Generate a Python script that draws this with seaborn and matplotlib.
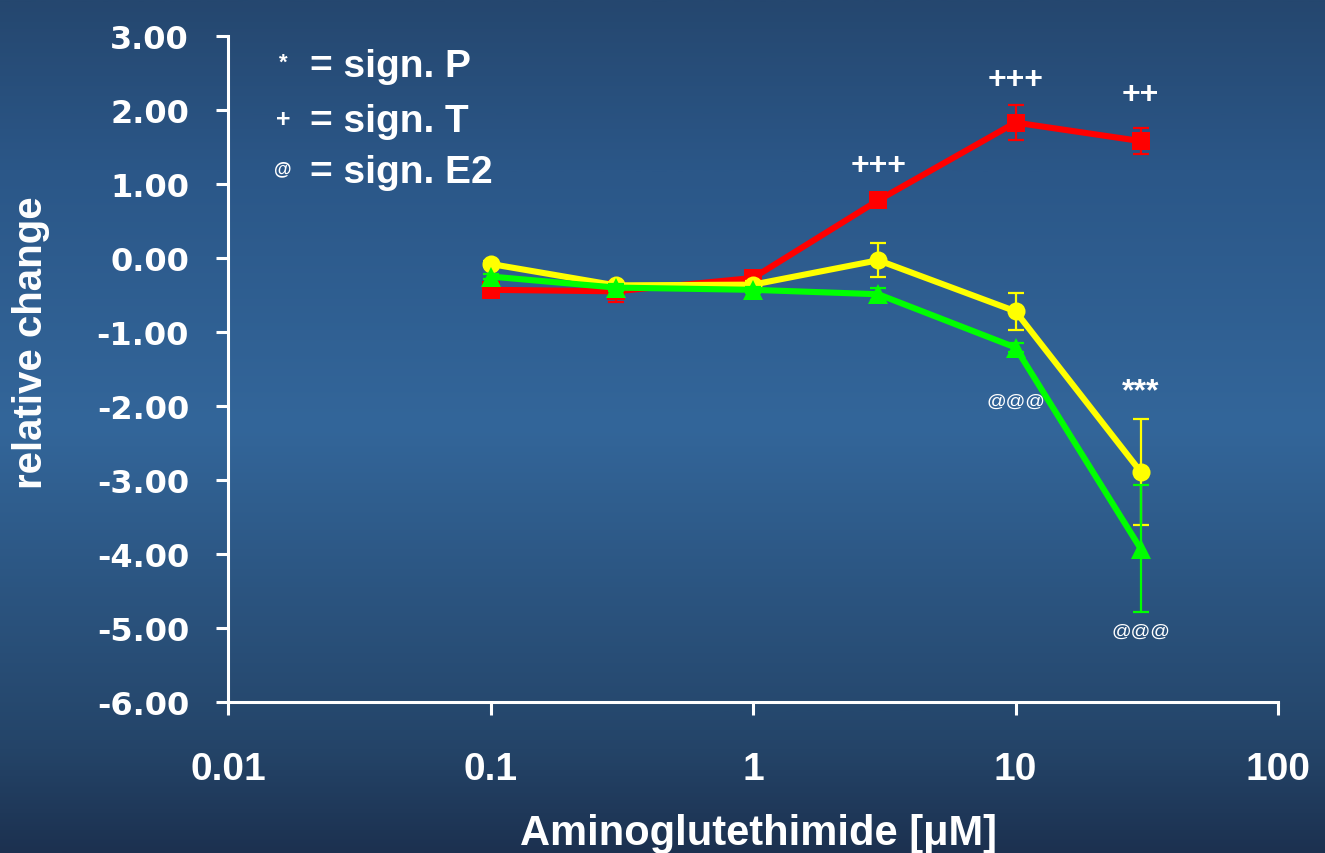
import numpy as np
import pandas as pd
import matplotlib
matplotlib.use("Agg")
import matplotlib.pyplot as plt
from matplotlib import font_manager
from matplotlib.colors import LinearSegmentedColormap
import seaborn as sns

# Concentrations (µM) and mean relative changes per steroid
conc = [0.1, 0.3, 1, 3, 10, 30]
progesterone = [-0.08, -0.37, -0.36, -0.03, -0.72, -2.89]
testosterone = [-0.43, -0.45, -0.27, 0.78, 1.83, 1.58]
estradiol = [-0.25, -0.40, -0.43, -0.49, -1.21, -3.93]

# Standard errors
progesterone_err = [0.04, 0.05, 0.05, 0.23, 0.25, 0.72]
testosterone_err = [0.04, 0.14, 0.04, 0.04, 0.24, 0.18]
estradiol_err = [0.04, 0.05, 0.04, 0.08, 0.06, 0.86]

# Significance marks
mark_x = [3, 10, 30, 30, 10, 30]
mark_y = [1.26, 2.42, 2.21, -1.80, -1.93, -5.04]
mark_text = ["+++", "+++", "++", "***", "@@@", "@@@"]

key_symbols = ["*", "+", "@"]
key_labels = ["= sign. P", "= sign. T", "= sign. E2"]

yticks = [3, 2, 1, 0, -1, -2, -3, -4, -5, -6]
xticks = [0.01, 0.1, 1, 10, 100]
xtick_labels = ["0.01", "0.1", "1", "10", "100"]

sns.set_theme(style="white")
plt.rcParams["font.family"] = ["Liberation Sans", "DejaVu Sans"]

installed = {f.name for f in font_manager.fontManager.ttflist}
narrow = "Liberation Sans Narrow" if "Liberation Sans Narrow" in installed else "Liberation Sans"

W, H = 1325, 854
fig = plt.figure(figsize=(W / 100, H / 100), dpi=100)

# Vertical blue gradient behind everything
bg = fig.add_axes([0, 0, 1, 1], zorder=-10)
grad_cmap = LinearSegmentedColormap.from_list(
    "bg",
    [(0.0, "#1c3150"), (0.12, "#244468"), (0.5, "#33669a"),
     (0.8, "#2b5788"), (1.0, "#25476f")],
)
g = np.linspace(0, 1, 512).reshape(-1, 1)
bg.imshow(g, aspect="auto", cmap=grad_cmap, origin="lower", extent=[0, 1, 0, 1])
bg.set_axis_off()

ax = fig.add_axes([228 / W, 1 - 703 / H, (1278 - 228) / W, (703 - 37) / H])
ax.set_facecolor("none")

df = pd.DataFrame({
    "conc": conc * 3,
    "value": progesterone + testosterone + estradiol,
    "steroid": ["P"] * 6 + ["T"] * 6 + ["E2"] * 6,
})
palette = {"T": "#ff0000", "P": "#ffff00", "E2": "#00ff00"}
markers = {"T": "s", "P": "o", "E2": "^"}
errs = {"T": testosterone_err, "P": progesterone_err, "E2": estradiol_err}
vals = {"T": testosterone, "P": progesterone, "E2": estradiol}

for i, s in enumerate(["T", "P", "E2"]):
    ax.errorbar(conc, vals[s], yerr=errs[s], fmt="none", ecolor=palette[s],
                elinewidth=1.6, capsize=6, capthick=1.6, zorder=2 + i)
    sub = df[df["steroid"] == s]
    sns.lineplot(data=sub, x="conc", y="value", color=palette[s],
                 marker=markers[s], markersize=13 if s != "E2" else 14,
                 markeredgewidth=0, linewidth=4.4, legend=False, ax=ax,
                 zorder=3 + i)

ax.set_xscale("log")
ax.set_xlim(0.01, 100)
ax.set_ylim(-6, 3)
ax.set_xticks(xticks)
ax.set_xticklabels(xtick_labels)
ax.minorticks_off()
ax.set_yticks(yticks)
ax.set_yticklabels([f"{v:.2f}" for v in yticks])

for side in ["top", "right"]:
    ax.spines[side].set_visible(False)
for side in ["left", "bottom"]:
    ax.spines[side].set_color("white")
    ax.spines[side].set_linewidth(2.2)

ax.tick_params(axis="both", direction="out", length=9, width=2.2, color="white",
               labelcolor="white", left=True, bottom=True)
ax.tick_params(axis="x", pad=26)
ax.tick_params(axis="y", pad=19)
for lab in ax.get_xticklabels():
    lab.set_fontsize(28)
    lab.set_fontweight("bold")
    lab.set_fontfamily(["Liberation Sans", "DejaVu Sans"])
for lab in ax.get_yticklabels():
    lab.set_fontsize(23)
    lab.set_fontweight("bold")
    lab.set_fontfamily(["DejaVu Sans"])

ax.set_xlabel("Aminoglutethimide [μM]", fontsize=30, fontweight="bold", color="white",
              family=["Liberation Sans", "DejaVu Sans"])
ax.xaxis.set_label_coords((758 - 228) / 1050, (703 - 814) / 666)
ax.set_ylabel("relative change", fontsize=29, fontweight="bold", color="white",
              family=[narrow, "DejaVu Sans"])
ax.yaxis.set_label_coords((50 - 228) / 1050, (703 - 343) / 666)

# Significance annotations
for x, y, t in zip(mark_x, mark_y, mark_text):
    if t.startswith("@"):
        ax.text(x, y, t, fontsize=14, color="white", ha="center", va="center",
                family=["Liberation Sans", "DejaVu Sans"], zorder=10)
    else:
        ax.text(x, y, t, fontsize=23, fontweight="bold", color="white",
                ha="center", va="center", family=["Liberation Sans", "DejaVu Sans"],
                zorder=10)

# Key for the significance symbols
sym_y = [63, 120, 170]
lab_base = [77, 132, 183]
sym_size = [16, 18, 13]
for sym, lab, sy, lb, ss in zip(key_symbols, key_labels, sym_y, lab_base, sym_size):
    fig.text(283 / W, 1 - sy / H, sym, fontsize=ss, fontweight="bold", color="white",
             ha="center", va="center", family=["Liberation Sans", "DejaVu Sans"])
    fig.text(310 / W, 1 - lb / H, lab, fontsize=28, fontweight="bold", color="white",
             ha="left", va="baseline", family=["Liberation Sans", "DejaVu Sans"])

fig.savefig("out.png", dpi=100)
